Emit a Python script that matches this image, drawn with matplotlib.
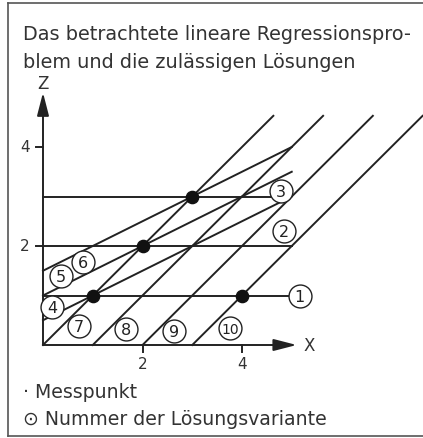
import numpy as np
from matplotlib import pyplot as plt

plt.rcParams['font.family'] = ['DejaVu Sans']

# Messpunkte
px = [1, 2, 3, 4]
pz = [1, 2, 3, 1]

# Lösungsvarianten 1-3: z = const
h_level = [1, 2, 3]
h_end = [4.94, 5.0, 4.58]

# Lösungsvarianten 4-6: z = a + 0.5 x
s_icpt = [0.5, 1.5, 1.0]
s_slope = 0.5
s_end = [5.0, 5.0, 5.0]

# Lösungsvarianten 7-10: z = x - c
d_shift = [0, 1, 2, 3]
d_top = 4.63

# Beschriftung der Varianten
lab_num = ['1', '2', '3', '4', '5', '6', '7', '8', '9', '10']
lab_x = [5.16, 4.84, 4.78, 0.18, 0.36, 0.80, 0.72, 1.66, 2.64, 3.76]
lab_z = [0.99, 2.30, 3.11, 0.77, 1.39, 1.68, 0.38, 0.32, 0.28, 0.34]

W, H = 423, 439
fig = plt.figure(figsize=(W / 100, H / 100), dpi=100)
ax = fig.add_axes([0, 0, 1, 1])
ax.axis('off')
x0, z0, sx, sz = 43, 346, 49.75, 49.5
ax.set_xlim(-x0 / sx, (W - x0) / sx)
ax.set_ylim(-(H - z0) / sz, z0 / sz)

lc = '#222222'
lw = 1.4

for lev, e in zip(h_level, h_end):
    ax.plot([0, e], [lev, lev], color=lc, lw=lw)
for a, e in zip(s_icpt, s_end):
    ax.plot([0, e], [a, a + s_slope * e], color=lc, lw=lw)
for c in d_shift:
    ax.plot([c, d_top + c], [0, d_top], color=lc, lw=lw)

ax.plot(px, pz, 'o', ms=8.8, color='#111111', zorder=5)

for n, x, z in zip(lab_num, lab_x, lab_z):
    ax.plot(x, z, 'o', ms=16.5, mfc='white', mec=lc, mew=1.0, zorder=6)
    ax.text(x, z - 0.01, n, ha='center', va='center', fontsize=11.5 if len(n) == 1 else 10,
            color=lc, zorder=7)

# Achsen
arr = dict(arrowstyle='-|>,head_length=0.7,head_width=0.18', lw=lw, color=lc,
           shrinkA=0, shrinkB=0, mutation_scale=20)
ax.annotate('', xy=(5.1, 0), xytext=(0, 0), arrowprops=arr)
ax.annotate('', xy=(0, 5.1), xytext=(0, 0), arrowprops=arr)
tl = 0.14
for t in [2, 4]:
    ax.plot([t, t], [0, -tl], color=lc, lw=lw)
    ax.plot([-tl, 0], [t, t], color=lc, lw=lw)
    ax.text(t, -0.38, str(t), ha='center', va='center', fontsize=11, color='#333333')
    ax.text(-0.36, t, str(t), ha='center', va='center', fontsize=11, color='#333333')
ax.text(5.35, 0, 'X', ha='center', va='center', fontsize=12, color='#333333')
ax.text(0, 5.29, 'Z', ha='center', va='center', fontsize=12, color='#333333')

# Texte
tc = '#333333'


def ftext(x, y, s, **kw):
    fig.text(x / W, 1 - y / H, s, va='baseline', ha='left', color=tc, **kw)


ftext(23, 40, 'Das betrachtete lineare Regressionspro-', fontsize=13.9)
ftext(23, 68, 'blem und die zulässigen Lösungen', fontsize=13.9)
ftext(23, 398, '· Messpunkt', fontsize=13.6)
ftext(23, 425, '⊙ Nummer der Lösungsvariante', fontsize=13.6)

# Rahmen
fc = '#555555'
fig.add_artist(plt.Line2D([8 / W, 1], [1 - 4 / H, 1 - 4 / H], color=fc, lw=1.2))
fig.add_artist(plt.Line2D([8 / W, 8 / W], [1 - 4 / H, 1 - 437 / H], color=fc, lw=1.2))
fig.add_artist(plt.Line2D([8 / W, 1], [1 - 437 / H, 1 - 437 / H], color=fc, lw=1.2))

fig.savefig('out.png', dpi=100)
